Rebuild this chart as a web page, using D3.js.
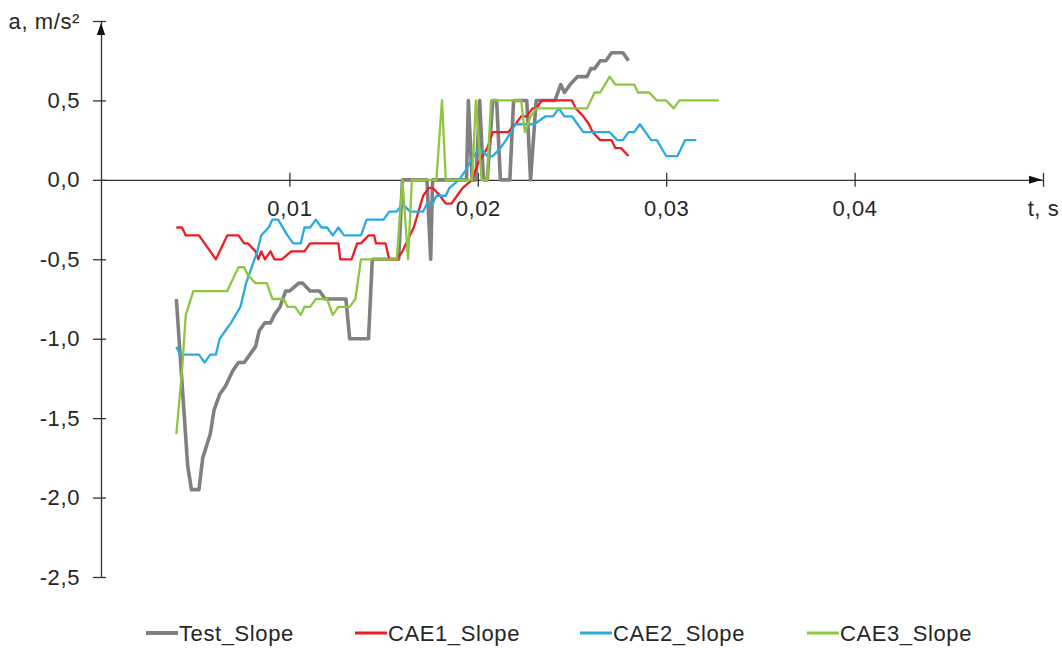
<!DOCTYPE html>
<html>
<head>
<meta charset="utf-8">
<script src="https://cdn.jsdelivr.net/npm/d3@7"></script>
<style>
  html, body { margin: 0; padding: 0; background: #ffffff; }
  svg { display: block; font-family: "Liberation Sans", Arial, sans-serif; }
</style>
</head>
<body>
<svg id="chart" width="1062" height="648"></svg>
<script>
// ---------------- data (time in ms, acceleration in m/s²) ----------------
const seriesNames = ["Test_Slope", "CAE1_Slope", "CAE2_Slope", "CAE3_Slope"];
const seriesColors = ["#808080", "#ED1C24", "#29ABE2", "#8DC63F"];

const testTime = [4.0,4.6,4.8,5.2,5.4,5.8,6.0,6.3,6.6,6.8,7.0,7.3,7.6,7.9,8.2,8.4,8.7,9.0,9.2,9.5,9.8,10.0,10.5,10.7,11.1,11.6,11.9,13.0,13.2,14.2,14.4,15.8,16.0,17.3,17.5,17.6,19.4,19.5,19.7,19.9,20.1,20.3,20.5,20.8,21.0,21.2,21.7,21.9,22.6,22.8,23.1,24.1,24.4,24.6,24.9,25.3,25.8,26.0,26.2,26.5,26.8,27.1,27.7,28.0];
const testValue = [-0.75,-1.8,-1.95,-1.95,-1.75,-1.6,-1.45,-1.35,-1.3,-1.25,-1.2,-1.15,-1.15,-1.1,-1.05,-0.95,-0.9,-0.9,-0.85,-0.8,-0.7,-0.7,-0.65,-0.65,-0.7,-0.7,-0.75,-0.75,-1.0,-1.0,-0.5,-0.5,0,0,-0.5,0,0,0.5,0,0,0.5,0,0,0.5,0.5,0,0,0.5,0.5,0,0.5,0.5,0.6,0.55,0.6,0.65,0.65,0.7,0.7,0.75,0.75,0.8,0.8,0.75];

const cae1Time = [4.0,4.3,4.5,5.2,6.1,6.7,7.3,7.6,7.8,8.2,8.35,8.5,8.7,9.0,9.2,9.6,10.1,10.8,11.1,12.6,12.7,13.3,13.6,13.8,14.2,14.5,14.6,15.1,15.3,15.7,16.0,16.6,17.1,17.4,17.6,18.0,18.3,18.6,18.9,19.2,19.7,20.0,20.5,20.8,21.6,22.0,22.3,22.6,22.9,23.1,23.4,25.0,25.2,25.6,25.9,26.1,26.5,27.1,27.3,27.6,28.0];
const cae1Value = [-0.3,-0.3,-0.35,-0.35,-0.5,-0.35,-0.35,-0.4,-0.4,-0.45,-0.5,-0.45,-0.5,-0.45,-0.5,-0.5,-0.45,-0.45,-0.4,-0.4,-0.5,-0.5,-0.4,-0.4,-0.35,-0.35,-0.4,-0.4,-0.5,-0.5,-0.45,-0.3,-0.1,-0.05,-0.05,-0.1,-0.15,-0.15,-0.1,-0.05,0,0.1,0.2,0.3,0.3,0.35,0.4,0.4,0.45,0.45,0.5,0.5,0.45,0.4,0.35,0.3,0.25,0.25,0.2,0.2,0.15];

const cae2Time = [4.0,4.2,5.2,5.5,5.8,6.1,6.3,6.6,6.9,7.4,7.7,8.3,8.5,8.9,9.1,9.4,9.9,10.2,10.6,10.8,11.1,11.4,11.7,12.0,12.3,12.6,12.9,13.8,14.1,15.0,15.3,15.7,16.0,16.4,16.8,17.1,17.3,17.6,17.8,18.3,18.5,19.0,19.3,19.8,20.1,20.5,20.8,21.2,21.5,22.0,23.0,23.6,24.0,24.3,24.6,25.0,25.3,25.6,27.0,27.4,27.7,28.0,28.3,28.6,28.9,29.2,29.5,30.0,30.6,31.0,31.6];
const cae2Value = [-1.05,-1.1,-1.1,-1.15,-1.1,-1.1,-1.0,-0.95,-0.9,-0.8,-0.65,-0.45,-0.35,-0.3,-0.25,-0.25,-0.35,-0.4,-0.4,-0.3,-0.3,-0.25,-0.3,-0.3,-0.35,-0.3,-0.35,-0.35,-0.25,-0.25,-0.2,-0.2,-0.15,-0.2,-0.2,-0.2,-0.15,-0.15,-0.1,-0.1,-0.05,0,0.05,0.15,0.2,0.15,0.15,0.2,0.25,0.35,0.35,0.4,0.4,0.45,0.4,0.4,0.35,0.3,0.3,0.25,0.25,0.3,0.3,0.35,0.3,0.25,0.25,0.15,0.15,0.25,0.25];

const cae3Time = [4.0,4.3,4.5,4.9,6.7,6.9,7.3,7.6,7.8,8.2,8.8,9.1,9.7,9.9,10.3,10.6,10.8,11.1,11.4,12.0,12.3,12.6,13.2,13.5,13.8,15.7,16.0,16.3,16.5,17.8,18.1,18.3,19.7,19.9,20.2,20.5,20.7,22.3,22.5,22.8,23.1,25.8,26.2,26.5,27.0,27.3,28.3,28.5,29.1,29.5,30.0,30.4,30.7,32.8];
const cae3Value = [-1.6,-1.2,-0.85,-0.7,-0.7,-0.65,-0.55,-0.55,-0.6,-0.65,-0.65,-0.75,-0.75,-0.8,-0.8,-0.85,-0.8,-0.8,-0.75,-0.75,-0.85,-0.8,-0.8,-0.75,-0.5,-0.5,0,-0.5,0,0,0.5,0,0,0.5,0,0,0.5,0.5,0.3,0.4,0.45,0.45,0.55,0.55,0.65,0.6,0.6,0.55,0.55,0.5,0.5,0.45,0.5,0.5];

const xTickValues = [0.01, 0.02, 0.03, 0.04, 0.05];
const yTickValues = [-2.5, -2.0, -1.5, -1.0, -0.5, 0.0, 0.5, 1.0];
const xAxisTitle = "t, s";
const yAxisTitle = "a, m/s²";

// ---------------- build ----------------
const seriesTimes = [testTime, cae1Time, cae2Time, cae3Time];
const seriesValues = [testValue, cae1Value, cae2Value, cae3Value];
const series = seriesNames.map((name, i) => ({
  name, color: seriesColors[i],
  points: seriesTimes[i].map((t, j) => ({ t: t / 1000, v: seriesValues[i][j] }))
}));

const svg = d3.select("#chart");
const x = d3.scaleLinear().domain([0, 0.05]).range([101, 1043]);
const y = d3.scaleLinear().domain([-2.5, 1.0]).range([577, 21]);

const loc = d3.formatLocale({ decimal: ",", thousands: " ", grouping: [3], currency: ["", ""], minus: "-" });
const fx = loc.format(".2f"), fy = loc.format(".1f");

const axisColor = "#333333";
const textColor = "#262626";
const fontSize = 22;
const letterSp = "0.6px";

// X axis
const gx = svg.append("g").attr("transform", `translate(0,${y(0)})`)
  .call(d3.axisBottom(x).tickValues(xTickValues).tickSize(7).tickSizeOuter(0).tickPadding(14)
    .tickFormat(d => Math.abs(d - 0.05) < 1e-9 ? xAxisTitle : fx(d)));
gx.select(".domain").attr("stroke", axisColor).attr("stroke-width", 1.3);
gx.selectAll(".tick line").attr("y1", -7).attr("y2", 7).attr("stroke", axisColor).attr("stroke-width", 1.3);
gx.selectAll(".tick text").attr("fill", textColor).style("font-size", fontSize + "px")
  .style("letter-spacing", letterSp).style("font-family", "Liberation Sans, Arial, sans-serif");

// Y axis
const gy = svg.append("g").attr("transform", `translate(${x(0)},0)`)
  .call(d3.axisLeft(y).tickValues(yTickValues).tickSize(8).tickSizeOuter(0).tickPadding(13)
    .tickFormat(d => Math.abs(d - 1.0) < 1e-9 ? yAxisTitle : fy(d)));
gy.select(".domain").attr("stroke", axisColor).attr("stroke-width", 1.3);
gy.selectAll(".tick line").attr("x1", 5).attr("x2", -8).attr("stroke", axisColor).attr("stroke-width", 1.3);
gy.selectAll(".tick text").attr("fill", textColor).style("font-size", fontSize + "px")
  .style("letter-spacing", letterSp).style("font-family", "Liberation Sans, Arial, sans-serif");

// Arrow heads
const xe = x(0.05), y0 = y(0);
svg.append("path")
  .attr("d", `M${xe - 1},${y0} L${xe - 14},${y0 - 4} L${xe - 14},${y0 + 4} Z`)
  .attr("fill", "#111");
const yt = y(1.0), x0 = x(0);
svg.append("path")
  .attr("d", `M${x0},${yt + 2} L${x0 - 4.2},${yt + 14} L${x0 + 4.2},${yt + 14} Z`)
  .attr("fill", "#111");

// Lines
const line = d3.line().x(d => x(d.t)).y(d => y(d.v));
svg.append("g").selectAll("path").data(series).join("path")
  .attr("d", d => line(d.points))
  .attr("fill", "none")
  .attr("stroke", d => d.color)
  .attr("stroke-width", (d, i) => i === 0 ? 3.6 : 2.3)
  .attr("stroke-linejoin", "round")
  .attr("stroke-linecap", "butt");

// Legend
const legendX = [146, 355, 580, 807];
const legendY = 633;
const lg = svg.append("g").selectAll("g").data(series).join("g")
  .attr("transform", (d, i) => `translate(${legendX[i]},${legendY})`);
lg.append("line").attr("x1", 0).attr("x2", 32).attr("y1", 0).attr("y2", 0)
  .attr("stroke", d => d.color).attr("stroke-width", (d, i) => i === 0 ? 4 : 3);
lg.append("text").attr("x", 33).attr("y", 0).attr("dy", "0.35em")
  .attr("fill", textColor).style("font-size", fontSize + "px").style("letter-spacing", letterSp)
  .text(d => d.name);
</script>
</body>
</html>
